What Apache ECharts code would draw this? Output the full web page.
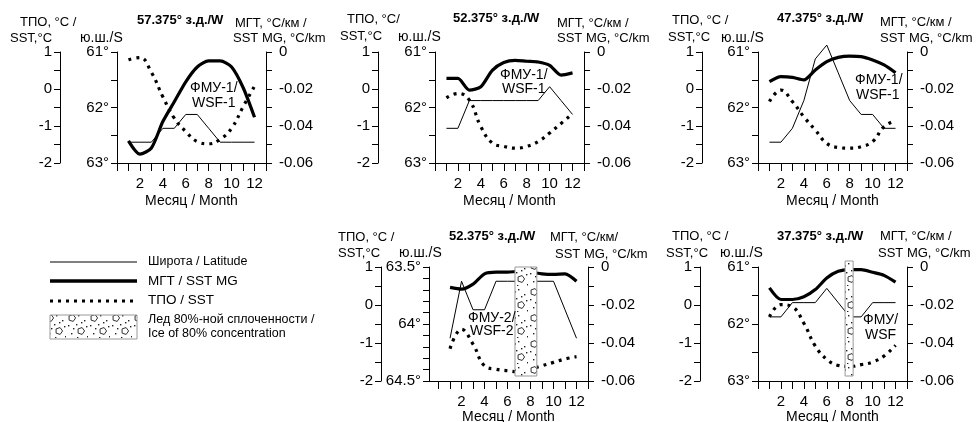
<!DOCTYPE html>
<html>
<head>
<meta charset="utf-8">
<title>ТПО / МГТ / Широта</title>
<script src="https://cdn.jsdelivr.net/npm/echarts@6/dist/echarts.min.js"></script>
<style>
    html, body {margin: 0; padding: 0; background: #fff;}
    #chart {width: 977px; height: 422px;}
</style>
</head>
<body>
<div id="chart"></div>
<script>
var FONT = '"Liberation Sans", Arial, sans-serif'

// months and ticks
var months = [1, 2, 3, 4, 5, 6, 7, 8, 9, 10, 11, 12]
var monthTicks = [0, 1, 2, 3, 4, 5, 6, 7, 8, 9, 10, 11, 12, 13]
var monthLabels = [2, 4, 6, 8, 10, 12]
var sstTicks = [-2, -1.5, -1, -0.5, 0, 0.5, 1]
var sstLabels = [-2, -1, 0, 1]
var mgtTicks = [-0.06, -0.05, -0.04, -0.03, -0.02, -0.01, 0]
var mgtLabels = [-0.06, -0.04, -0.02, 0]
var latTicksA = [61, 61.5, 62, 62.5, 63]
var latLabelsA = [61, 62, 63]
var latTicksB = [63.5, 63.6, 63.7, 63.8, 63.9, 64, 64.1, 64.2, 64.3, 64.4, 64.5]
var latLabelsB = [63.5, 64, 64.5]

var titles = ['57.375° з.д./W', '52.375° з.д./W', '47.375° з.д./W', '52.375° з.д./W', '37.375° з.д./W']
var tags = [['ФМУ-1/', 'WSF-1'], ['ФМУ-1/', 'WSF-1'], ['ФМУ-1/', 'WSF-1'], ['ФМУ-2/', 'WSF-2'], ['ФМУ/', 'WSF']]

// 57.375 W
var lat1 = [62.625, 62.625, 62.625, 62.375, 62.375, 62.125, 62.125, 62.375, 62.625, 62.625, 62.625, 62.625]
var mgt1 = [-0.048, -0.0552, -0.0519, -0.0376, -0.0269, -0.0161, -0.0081, -0.0048, -0.0048, -0.0081, -0.0192, -0.0353]
var sst1 = [0.79, 0.85, 0.45, -0.21, -0.79, -1.15, -1.42, -1.48, -1.36, -1.06, -0.48, 0.08]
// 52.375 W (FMU-1)
var lat2 = [62.375, 62.375, 61.875, 61.875, 61.875, 61.875, 61.875, 61.875, 61.875, 61.625, 61.875, 62.125]
var mgt2 = [-0.0143, -0.0143, -0.0206, -0.0188, -0.0099, -0.0057, -0.0045, -0.005, -0.0054, -0.0072, -0.0125, -0.0113]
var sst2 = [-0.24, -0.12, -0.3, -1.02, -1.46, -1.55, -1.6, -1.55, -1.42, -1.19, -0.93, -0.67]
// 47.375 W
var lat3 = [62.625, 62.625, 62.375, 61.875, 61.125, 60.875, 61.375, 61.875, 62.125, 62.125, 62.375, 62.375]
var mgt3 = [-0.016, -0.0133, -0.0137, -0.0151, -0.0097, -0.0052, -0.0029, -0.0022, -0.0025, -0.0043, -0.007, -0.0112]
var sst3 = [-0.34, -0.03, -0.34, -0.75, -1.11, -1.47, -1.58, -1.6, -1.56, -1.42, -1.02, -0.85]
// 52.375 W (FMU-2)
var lat4 = [64.125, 63.625, 63.875, 63.875, 63.625, 63.625, 63.625, 63.625, 63.625, 63.625, 63.875, 64.125]
var mgt4 = [-0.0107, -0.0116, -0.009, -0.0036, -0.0027, -0.0027, -0.0023, -0.0027, -0.0036, -0.0039, -0.0036, -0.0075]
var sst4 = [-1.15, -0.64, -1.03, -1.6, -1.69, -1.73, -1.76, -1.69, -1.6, -1.51, -1.42, -1.36]
// 37.375 W
var lat5 = [61.875, 61.875, 61.625, 61.625, 61.625, 61.375, 61.625, 61.875, 61.875, 61.625, 61.625, 61.625]
var mgt5 = [-0.011, -0.0171, -0.0171, -0.0157, -0.0119, -0.0058, -0.0023, -0.0014, -0.0014, -0.0028, -0.0044, -0.008]
var sst5 = [-0.31, 0.01, -0.05, -0.48, -1.08, -1.43, -1.59, -1.62, -1.57, -1.5, -1.34, -1.06]

// ice 80% (months from / to)
var ice4 = [6.65, 8.55]
var ice5 = [7.6, 8.3]

var panels = [
    {lat: lat1, mgt: mgt1, sst: sst1, latMin: 61, latMax: 63, latTicks: latTicksA, latLabels: latLabelsA, ice: null},
    {lat: lat2, mgt: mgt2, sst: sst2, latMin: 61, latMax: 63, latTicks: latTicksA, latLabels: latLabelsA, ice: null},
    {lat: lat3, mgt: mgt3, sst: sst3, latMin: 61, latMax: 63, latTicks: latTicksA, latLabels: latLabelsA, ice: null},
    {lat: lat4, mgt: mgt4, sst: sst4, latMin: 63.5, latMax: 64.5, latTicks: latTicksB, latLabels: latLabelsB, ice: ice4},
    {lat: lat5, mgt: mgt5, sst: sst5, latMin: 61, latMax: 63, latTicks: latTicksA, latLabels: latLabelsA, ice: ice5}
]

// layout of each panel (pixels)
var boxes = [
    {sstX: 60, latX: 117, rightX: 266, top: 52, bottom: 163, xMin: 0, nameGap: 31},
    {sstX: 378, latX: 435, rightX: 584, top: 52, bottom: 163, xMin: 0, nameGap: 31},
    {sstX: 702, latX: 758, rightX: 907, top: 52, bottom: 163, xMin: 0, nameGap: 31},
    {sstX: 381, latX: 429, rightX: 588, top: 267, bottom: 381, xMin: -0.83, nameGap: 28, iceTop: 0, iceBottom: -5},
    {sstX: 700, latX: 758, rightX: 907, top: 267, bottom: 381, xMin: 0, nameGap: 28, iceTop: -6, iceBottom: -5}
]
var heads = [
    {sst: [20, 22, 10, 38], lat: [80, 38], title: [137, 20], mgt: [235, 23, 233, 38], tag: [190, 88, 192, 103]},
    {sst: [347, 19, 340, 36], lat: [398, 37], title: [453, 18], mgt: [557, 23, 557, 38], tag: [500, 75, 502, 89]},
    {sst: [672, 20, 668, 37], lat: [721, 38], title: [777, 18], mgt: [880, 22, 880, 38], tag: [855, 80, 856, 95]},
    {sst: [338, 237, 338, 253], lat: [399, 253], title: [449, 236], mgt: [550, 237, 555, 254], tag: [468, 318, 470, 331]},
    {sst: [672, 236, 666, 253], lat: [720, 253], title: [777, 236], mgt: [880, 236, 878, 253], tag: [863, 320, 865, 335]}
]
var sstNames = ['ТПО, °C /', 'ТПО, °C/', 'ТПО, °C /', 'ТПО, °C /', 'ТПО, °C /']
var mgtNames = ['МГТ, °C/км /', 'МГТ, °C/км /', 'МГТ, °C/км /', 'МГТ, °C/км/', 'МГТ, °C/км /']

function pentagon(g, cx, cy, r) {
    g.beginPath()
    for (var k = 0; k < 5; k++) {
        var a = -Math.PI / 2 + k * 2 * Math.PI / 5 + 0.3
        var px = cx + r * Math.cos(a), py = cy + r * Math.sin(a)
        if (k == 0) g.moveTo(px, py)
        else g.lineTo(px, py)
    }
    g.closePath()
    g.stroke()
}

function makeIcePattern() {
    var c = document.createElement('canvas')
    c.width = 22
    c.height = 26
    var g = c.getContext('2d')
    g.fillStyle = '#fff'
    g.fillRect(0, 0, 22, 26)
    g.strokeStyle = '#333'
    g.lineWidth = 1
    pentagon(g, 6, 6, 3.6)
    pentagon(g, 15, 19, 3.6)
    g.fillStyle = '#222'
    var dots = [[12, 3], [18, 8], [2, 13], [10, 12], [20, 14], [5, 21], [21, 24], [11, 25], [15, 10], [7, 16]]
    for (var i = 0; i < dots.length; i++) {
        g.fillRect(dots[i][0], dots[i][1], 1.4, 1.4)
    }
    return c
}
var icePattern = {image: makeIcePattern(), repeat: 'repeat'}

function pairs(ys) {
    return months.map(function (m, j) {
        return [m, ys[j]]
    })
}

function txt(x, y, text, size, bold) {
    return {
        type: 'text', x: x, y: y, z: 100,
        style: {
            text: text, fill: '#000', verticalAlign: 'middle',
            font: (bold ? 'bold ' : '') + size + 'px ' + FONT
        }
    }
}

var grid = [], xAxis = [], yAxis = [], series = [], graphic = []

panels.forEach(function (p, i) {
    var b = boxes[i]
    grid.push({
        left: b.latX, top: b.top, width: b.rightX - b.latX, height: b.bottom - b.top,
        containLabel: false, outerBoundsMode: 'none'
    })
    xAxis.push({
        gridIndex: i, type: 'value', min: b.xMin, max: 13,
        name: 'Месяц / Month', nameLocation: 'middle', nameGap: b.nameGap,
        nameTextStyle: {color: '#000', fontSize: 14, fontFamily: FONT},
        axisLine: {onZero: false, lineStyle: {color: '#000', width: 1}},
        axisTick: {customValues: monthTicks, length: 8, lineStyle: {color: '#000'}},
        axisLabel: {customValues: monthLabels, margin: 13, color: '#000', fontSize: 15, fontFamily: FONT},
        splitLine: {show: false}
    })
    // latitude
    yAxis.push({
        gridIndex: i, type: 'value', position: 'left', inverse: true,
        min: p.latMin, max: p.latMax,
        axisLine: {show: true, onZero: false, lineStyle: {color: '#000'}},
        axisTick: {show: true, customValues: p.latTicks, length: 6, lineStyle: {color: '#000'}},
        axisLabel: {
            customValues: p.latLabels, margin: 8, color: '#000', fontSize: 15, fontFamily: FONT,
            formatter: function (v) { return v + '°' }
        },
        splitLine: {show: false}
    })
    // SST
    yAxis.push({
        gridIndex: i, type: 'value', position: 'left', offset: b.latX - b.sstX,
        min: -2, max: 1,
        axisLine: {show: true, onZero: false, lineStyle: {color: '#000'}},
        axisTick: {show: true, customValues: sstTicks, length: 6, lineStyle: {color: '#000'}},
        axisLabel: {customValues: sstLabels, margin: 8, color: '#000', fontSize: 15, fontFamily: FONT},
        splitLine: {show: false}
    })
    // SST MG
    yAxis.push({
        gridIndex: i, type: 'value', position: 'right', offset: 0,
        min: -0.06, max: 0,
        axisLine: {show: true, onZero: false, lineStyle: {color: '#000'}},
        axisTick: {show: true, customValues: mgtTicks, length: 6, lineStyle: {color: '#000'}},
        axisLabel: {
            customValues: mgtLabels, margin: 13, color: '#000', fontSize: 15, fontFamily: FONT,
            formatter: function (v) { return v == 0 ? '0' : v.toFixed(2) }
        },
        splitLine: {show: false}
    })

    series.push({
        name: 'Широта / Latitude', type: 'line', xAxisIndex: i, yAxisIndex: 3 * i,
        data: pairs(p.lat), symbol: 'none', clip: false, z: 3,
        lineStyle: {color: '#000', width: 1}
    })
    series.push({
        name: 'ТПО / SST', type: 'line', xAxisIndex: i, yAxisIndex: 3 * i + 1,
        data: pairs(p.sst), symbol: 'none', clip: false, smooth: 0.45, z: 3,
        lineStyle: {color: '#000', width: 3.2, type: [3, 5]}
    })
    series.push({
        name: 'МГТ / SST MG', type: 'line', xAxisIndex: i, yAxisIndex: 3 * i + 2,
        data: pairs(p.mgt), symbol: 'none', clip: false, smooth: 0.25, z: 4,
        lineStyle: {color: '#000', width: 3.2}
    })
    if (p.ice) {
        series.push({
            type: 'custom', xAxisIndex: i, yAxisIndex: 3 * i, z: 10, clip: false,
            data: [p.ice],
            renderItem: function (params, api) {
                var cs = params.coordSys
                var x0 = api.coord([api.value(0), p.latMin])[0]
                var x1 = api.coord([api.value(1), p.latMin])[0]
                return {
                    type: 'rect',
                    shape: {x: x0, y: cs.y + b.iceTop, width: x1 - x0, height: cs.height - b.iceTop + b.iceBottom},
                    style: {fill: icePattern, stroke: '#999', lineWidth: 1}
                }
            }
        })
    }

    var h = heads[i]
    graphic.push(txt(h.sst[0], h.sst[1], sstNames[i], 13))
    graphic.push(txt(h.sst[2], h.sst[3], 'SST,°C', 13))
    graphic.push(txt(h.lat[0], h.lat[1], 'ю.ш./S', 14))
    graphic.push(txt(h.title[0], h.title[1], titles[i], 13, true))
    graphic.push(txt(h.mgt[0], h.mgt[1], mgtNames[i], 13))
    graphic.push(txt(h.mgt[2], h.mgt[3], 'SST MG, °C/km', 13))
    graphic.push(txt(h.tag[0], h.tag[1], tags[i][0], 14))
    graphic.push(txt(h.tag[2], h.tag[3], tags[i][1], 14))
})

// legend block
graphic.push({type: 'line', shape: {x1: 50, y1: 262, x2: 137, y2: 262}, style: {stroke: '#000', lineWidth: 1}})
graphic.push({type: 'line', shape: {x1: 50, y1: 281, x2: 137, y2: 281}, style: {stroke: '#000', lineWidth: 3.5}})
graphic.push({type: 'line', shape: {x1: 50, y1: 301, x2: 137, y2: 301}, style: {stroke: '#000', lineWidth: 3, lineDash: [3, 5]}})
graphic.push({type: 'rect', shape: {x: 50, y: 315, width: 87, height: 24}, style: {fill: icePattern, stroke: '#999', lineWidth: 1}})
graphic.push(txt(148, 262, 'Широта / Latitude', 12.5))
graphic.push(txt(148, 281, 'МГТ / SST MG', 13.5))
graphic.push(txt(148, 300, 'ТПО / SST', 13.5))
graphic.push(txt(148, 320, 'Лед 80%-ной сплоченности /', 12.5))
graphic.push(txt(148, 334, 'Ice of 80% concentration', 12.5))

var chart = echarts.init(document.getElementById('chart'))
chart.setOption({
    animation: false,
    backgroundColor: '#fff',
    textStyle: {fontFamily: FONT},
    grid: grid,
    xAxis: xAxis,
    yAxis: yAxis,
    series: series,
    graphic: graphic
})
</script>
</body>
</html>
